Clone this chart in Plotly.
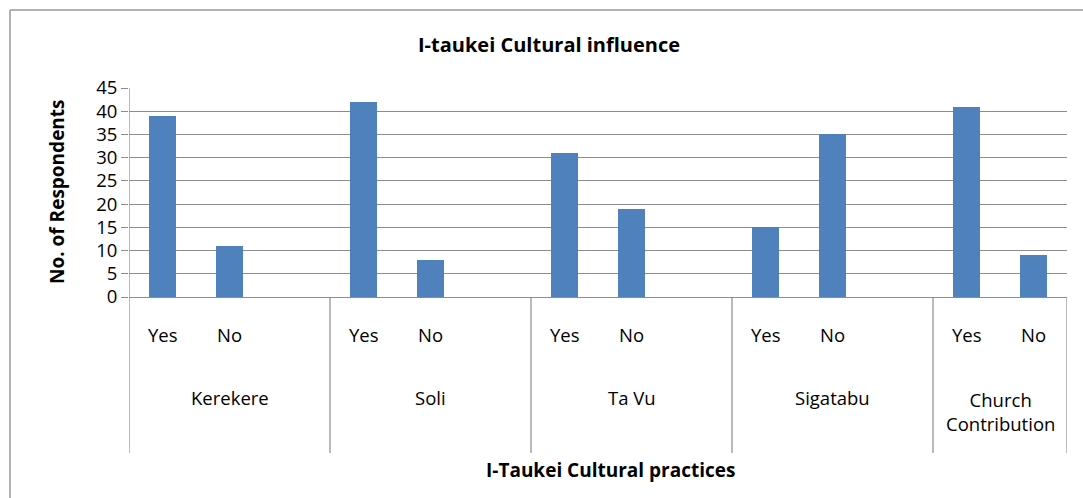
import plotly.graph_objects as go

practices = ['Kerekere', 'Soli', 'Ta Vu', 'Sigatabu', 'Church<br>Contribution']
answers = ['Yes', 'No']
yes_counts = [39, 42, 31, 15, 41]
no_counts = [11, 8, 19, 35, 9]

W, H = 1083, 498
L, R, T, B = 129, 1067, 88, 297
font = 'Open Sans'
grid = '#8c8c8c'

# each practice takes 3 slots (Yes, No, blank) except the last one
slot = 3
x_pos, y_val, sub_lbl = [], [], []
for i, (y, n) in enumerate(zip(yes_counts, no_counts)):
    for j, v in enumerate([y, n]):
        x_pos.append(i * slot + j)
        y_val.append(v)
        sub_lbl.append(answers[j])
n_slots = slot * (len(practices) - 1) + 2

def py(px):
    # pixel y -> paper y
    return (B - px) / (B - T)

def pxx(px):
    # pixel x -> paper x
    return (px - L) / (R - L)

fig = go.Figure()
fig.add_trace(go.Bar(x=x_pos, y=y_val, width=0.4, marker_color='#4f81bd',
                     marker_line_width=0, showlegend=False))

lbl_font = dict(size=18.5, color='#000')
ann = []
for x, s in zip(x_pos, sub_lbl):
    ann.append(dict(x=x, y=py(334), xref='x', yref='paper', text=s, showarrow=False,
                    font=lbl_font, xanchor='center', yanchor='middle'))
for i, p in enumerate(practices):
    two = '<br>' in p
    cx = i * slot + 0.5 if i == len(practices) - 1 else i * slot + 1
    ann.append(dict(x=cx, y=py(411 if two else 397), xref='x', yref='paper', text=p,
                    showarrow=False, font=lbl_font, xanchor='center', yanchor='middle'))
ann.append(dict(x=pxx(549), y=py(44), xref='paper', yref='paper',
                text='<b>I-taukei Cultural influence</b>', showarrow=False,
                xanchor='center', yanchor='middle', font=dict(size=20, color='#000')))
ann.append(dict(x=pxx(610), y=py(470), xref='paper', yref='paper',
                text='<b>I-Taukei Cultural practices</b>', showarrow=False,
                xanchor='center', yanchor='middle', font=dict(size=19, color='#000')))
ann.append(dict(x=pxx(57), y=py(192), xref='paper', yref='paper',
                text='<b>No. of Respondents</b>', showarrow=False, textangle=-90,
                xanchor='center', yanchor='middle', font=dict(size=19, color='#000')))

shapes = []
bounds = [i * slot - 0.5 for i in range(len(practices))] + [n_slots - 0.5]
for b in bounds:
    shapes.append(dict(type='line', xref='x', yref='paper', x0=b, x1=b, y0=0, y1=py(453),
                       line=dict(color=grid, width=1.2)))
shapes.append(dict(type='line', xref='x', yref='paper', x0=-0.5, x1=-0.5, y0=0, y1=1,
                   line=dict(color=grid, width=1.2)))
# chart frame (top and left edges visible)
shapes.append(dict(type='line', xref='paper', yref='paper', x0=pxx(10), x1=1.1,
                   y0=py(10), y1=py(10), line=dict(color='#999', width=1.5)))
shapes.append(dict(type='line', xref='paper', yref='paper', x0=pxx(10), x1=pxx(10),
                   y0=py(10), y1=py(510), line=dict(color='#999', width=1.5)))

fig.update_layout(
    width=W, height=H,
    margin=dict(l=L, r=W - R, t=T, b=H - B),
    plot_bgcolor='white', paper_bgcolor='white',
    font=dict(family=font, color='#000'),
    bargap=0,
    xaxis=dict(range=[-0.5, n_slots - 0.5], showticklabels=False, showgrid=False,
               zeroline=False, ticks='', fixedrange=True),
    yaxis=dict(range=[0, 45], dtick=5, showgrid=True, gridcolor=grid, gridwidth=1.2,
               zeroline=True, zerolinecolor=grid, zerolinewidth=1.2,
               ticks='outside', ticklen=7, tickcolor=grid, tickfont=dict(size=18.5),
               showline=False),
    annotations=ann, shapes=shapes,
)

fig.write_html('out.html', config={'displayModeBar': False},
               post_script="document.body.style.margin='0';document.body.style.overflow='hidden';")
